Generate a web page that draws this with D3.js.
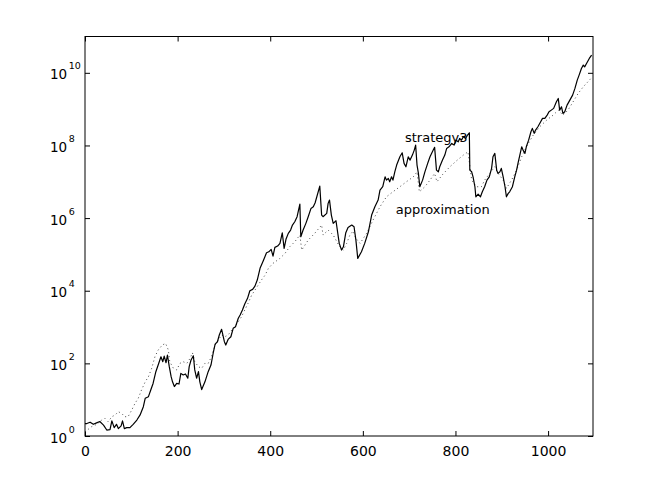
<!DOCTYPE html>
<html>
<head>
<meta charset="utf-8">
<script src="https://cdnjs.cloudflare.com/ajax/libs/d3/7.8.5/d3.min.js"></script>
<style>
  body { margin: 0; background: #fff; }
  text { font-family: "DejaVu Sans", sans-serif; fill: #000; }
</style>
</head>
<body>
<script>
// strategy3 (solid line)
var stratX = [0, 4, 11, 18, 25, 32, 40, 47, 54, 58, 63, 68, 72, 78, 81, 85, 90, 97, 104, 112,
  119, 126, 130, 137, 142, 147, 153, 158, 164, 168, 171, 175, 178, 182, 186, 189, 193, 198, 203, 207,
  212, 217, 222, 225, 229, 234, 237, 241, 245, 248, 252, 259, 266, 272, 277, 281, 286, 290, 295, 301,
  304, 309, 315, 320, 325, 331, 335, 340, 345, 351, 356, 362, 367, 372, 378, 385, 392, 397, 402, 406,
  410, 416, 421, 426, 430, 434, 439, 444, 448, 453, 458, 464, 466, 471, 477, 482, 488, 493, 497, 507,
  511, 514, 522, 525, 528, 532, 536, 542, 549, 554, 558, 563, 568, 576, 581, 585, 589, 597, 604, 612,
  619, 626, 633, 637, 643, 648, 651, 655, 658, 662, 665, 669, 673, 680, 685, 689, 693, 698, 702, 707,
  711, 714, 717, 720, 723, 729, 734, 740, 745, 752, 755, 759, 763, 766, 772, 777, 781, 786, 792, 797,
  801, 806, 809, 813, 817, 822, 826, 830, 831, 835, 838, 842, 844, 849, 854, 858, 863, 868, 873, 878,
  881, 885, 889, 892, 896, 899, 903, 907, 910, 914, 917, 923, 928, 932, 935, 939, 943, 946, 950, 953,
  958, 963, 966, 970, 973, 978, 984, 988, 993, 998, 1002, 1007, 1012, 1018, 1022, 1025, 1029, 1032, 1036, 1041,
  1047, 1053, 1058, 1063, 1067, 1072, 1076, 1079, 1083, 1089, 1094];
var stratY = [2.2, 2.2, 2.4, 2.1, 2.3, 2.5, 2.0, 1.46, 1.5, 2.6, 1.7, 2.1, 1.6, 1.9, 2.6, 1.6, 1.7, 1.7, 2.1, 2.75,
  3.8, 6.4, 10.9, 12.1, 18.5, 28, 59, 90, 152, 111, 159, 104, 170, 81, 43, 31, 23, 28, 27, 53,
  48, 51, 39, 81, 124, 162, 66, 39, 59, 31, 19, 31, 59, 90, 196, 340, 394, 603, 865, 394,
  320, 457, 541, 920, 1020, 1740, 2140, 2940, 4300, 6170, 9980, 10900, 13400, 19700, 41300, 66800, 111000, 118000, 138000, 90000,
  156000, 170000, 201000, 394000, 147000, 260000, 380000, 468000, 643000, 793000, 1.09e6, 2.43e6, 306000, 468000, 716000, 1.09e6, 1.85e6, 2.05e6, 2.65e6, 7.6e6,
  1.21e6, 1.09e6, 1.35e6, 2.54e6, 3.13e6, 1.21e6, 716000, 844000, 201000, 132000, 162000, 387000, 548000, 643000, 577000, 248000, 77800, 118000, 201000, 420000,
  1.21e6, 2.05e6, 3.13e6, 5.9e6, 7.3e6, 1.37e7, 1.11e7, 1.24e7, 1.0e7, 1.37e7, 1.11e7, 1.88e7, 2.88e7, 4.87e7, 6.28e7, 3.21e7, 2.59e7, 4.87e7, 3.95e7, 5.43e7,
  7.45e7, 1.02e8, 2.88e7, 1.7e7, 7.3e6, 1.11e7, 1.88e7, 3.21e7, 4.87e7, 7.45e7, 8.84e7, 2.09e7, 1.88e7, 2.59e7, 3.95e7, 5.43e7, 8.3e7, 9.18e7, 1.14e8, 1.02e8,
  1.4e8, 1.26e8, 1.56e8, 1.4e8, 1.73e8, 1.56e8, 1.93e8, 2.23e8, 2.09e7, 1.88e7, 1.37e7, 7.3e6, 3.86e6, 4.58e6, 3.86e6, 5.3e6, 7.3e6, 1.11e7, 1.37e7, 2.34e7,
  4.87e7, 6.04e7, 2.09e7, 1.7e7, 1.88e7, 2.34e7, 1.37e7, 7.3e6, 3.86e6, 4.79e6, 5.3e6, 7.3e6, 1.37e7, 2.09e7, 3.21e7, 5.43e7, 9.18e7, 7.45e7, 6.04e7, 9.18e7,
  1.4e8, 2.38e8, 2.95e8, 2.15e8, 2.65e8, 3.27e8, 4.48e8, 5.56e8, 5.56e8, 6.85e8, 8.44e8, 9.4e8, 1.05e9, 1.59e9, 1.97e9, 9.4e8, 1.16e9, 7.62e8, 8.44e8, 1.29e9,
  1.77e9, 2.43e9, 3.72e9, 6.3e9, 8.65e9, 1.32e10, 1.63e10, 1.46e10, 1.81e10, 2.49e10, 3.07e10];

// approximation (dotted line)
var approxX = [0, 7, 14, 22, 29, 36, 43, 50, 58, 65, 72, 79, 86, 93, 101, 108, 115, 122, 130, 137,
  144, 151, 158, 167, 174, 180, 183, 191, 198, 205, 212, 220, 227, 232, 237, 245, 252, 259, 266, 273,
  281, 288, 295, 302, 309, 317, 324, 331, 338, 345, 352, 360, 367, 374, 381, 389, 396, 406, 421, 432,
  442, 453, 464, 468, 482, 496, 511, 514, 525, 536, 550, 558, 565, 572, 579, 585, 594, 608, 622, 637,
  651, 665, 680, 694, 709, 717, 722, 734, 745, 755, 760, 773, 788, 802, 817, 827, 835, 845, 856, 863,
  874, 885, 892, 903, 910, 921, 932, 943, 953, 968, 982, 997, 1011, 1022, 1032, 1043, 1054, 1065, 1076, 1086,
  1095];
var approxY = [1.31, 1.53, 1.8, 2.0, 2.24, 2.76, 3.07, 2.48, 3.4, 3.78, 4.67, 4.2, 3.4, 3.4, 5.2, 7.94, 10.9, 18.5, 31, 43,
  73, 152, 233, 320, 356, 233, 111, 73, 66, 100, 111, 100, 138, 196, 111, 81, 73, 100, 100, 152,
  320, 439, 603, 541, 603, 828, 1020, 1400, 1920, 2940, 4490, 7600, 10400, 14300, 19700, 27000, 41300, 56700, 77800, 107000,
  162000, 223000, 341000, 132000, 248000, 380000, 643000, 341000, 468000, 341000, 162000, 132000, 201000, 341000, 439000, 277000, 201000, 380000, 881000, 2.05e6,
  3.86e6, 5.3e6, 7.3e6, 1.0e7, 1.37e7, 1.88e7, 5.3e6, 7.3e6, 1.11e7, 1.7e7, 1.0e7, 1.63e7, 2.59e7, 3.76e7, 5.43e7, 6.69e7, 1.11e7, 7.3e6, 7.3e6, 1.11e7,
  1.7e7, 2.59e7, 1.7e7, 1.11e7, 6.58e6, 1.11e7, 2.09e7, 4.87e7, 9.18e7, 1.93e8, 3.27e8, 4.99e8, 6.85e8, 9.4e8, 6.85e8, 9.4e8, 1.59e9, 2.71e9, 4.12e9, 5.65e9,
  7.6e9];

// tick values
var xTicks = [0, 200, 400, 600, 800, 1000];
var yExponents = [0, 2, 4, 6, 8, 10];

// curve labels, placed in data coordinates
var labelNames = ["strategy3", "approximation"];
var labelX = [691, 671];
var labelY = [1.24e8, 1.29e6];

var w = 654;
var h = 492;

var xScale = d3.scaleLinear()
               .domain([0, 1097])
               .range([85, 593]);

var yScale = d3.scaleLog()
               .domain([1, 1e11])
               .range([436, 36.5]);

var svg = d3.select("body")
            .append("svg")
            .attr("width", w)
            .attr("height", h);

// bottom axis with labels, ticks pointing inward
svg.append("g")
   .attr("transform", "translate(0,436)")
   .call(d3.axisBottom(xScale)
           .tickValues(xTicks)
           .tickFormat(d3.format("d"))
           .tickSizeInner(-5)
           .tickSizeOuter(0)
           .tickPadding(10))
   .call(function(g) {
       g.select(".domain").remove();
       g.selectAll("line").attr("stroke", "#000");
       g.selectAll("text")
        .style("font-family", "DejaVu Sans, sans-serif")
        .style("font-size", "14px");
   });

// top mirror ticks
svg.append("g")
   .attr("transform", "translate(0,36.5)")
   .call(d3.axisTop(xScale)
           .tickValues(xTicks)
           .tickSizeInner(-5)
           .tickSizeOuter(0)
           .tickFormat(""))
   .call(function(g) { g.select(".domain").remove(); });

// left axis; labels are drawn as 10 with a superscript
var yTickVals = yExponents.map(function(e) { return Math.pow(10, e); });

var leftAxis = svg.append("g")
   .attr("transform", "translate(85,0)")
   .call(d3.axisLeft(yScale)
           .tickValues(yTickVals)
           .tickSizeInner(-5)
           .tickSizeOuter(0)
           .tickFormat(""));
leftAxis.select(".domain").remove();

leftAxis.selectAll(".tick")
   .each(function(d, i) {
       var t = d3.select(this).append("text")
                 .attr("x", -35)
                 .attr("y", 6)
                 .attr("text-anchor", "start")
                 .style("font-size", "13.5px");
       t.append("tspan").text("10");
       t.append("tspan")
        .attr("dx", 1.5)
        .attr("dy", -10)
        .style("font-size", "9.5px")
        .text(yExponents[i]);
   });

// right mirror ticks
svg.append("g")
   .attr("transform", "translate(593,0)")
   .call(d3.axisRight(yScale)
           .tickValues(yTickVals)
           .tickSizeInner(-5)
           .tickSizeOuter(0)
           .tickFormat(""))
   .call(function(g) { g.select(".domain").remove(); });

// frame
svg.append("rect")
   .attr("x", 85)
   .attr("y", 36.5)
   .attr("width", 593 - 85)
   .attr("height", 436 - 36.5)
   .attr("fill", "none")
   .attr("stroke", "#000")
   .attr("stroke-width", 1);

var line = d3.line()
             .x(function(d) { return xScale(d[0]); })
             .y(function(d) { return yScale(d[1]); });

// approximation
svg.append("path")
   .datum(approxX.map(function(x, i) { return [x, approxY[i]]; }))
   .attr("d", line)
   .attr("fill", "none")
   .attr("stroke", "#444")
   .attr("stroke-width", 1)
   .attr("stroke-dasharray", "1,3");

// strategy3
svg.append("path")
   .datum(stratX.map(function(x, i) { return [x, stratY[i]]; }))
   .attr("d", line)
   .attr("fill", "none")
   .attr("stroke", "#000")
   .attr("stroke-width", 1.2)
   .attr("stroke-linejoin", "round");

// labels
svg.selectAll(".curveLabel")
   .data(labelNames)
   .enter()
   .append("text")
   .attr("class", "curveLabel")
   .attr("x", function(d, i) { return xScale(labelX[i]); })
   .attr("y", function(d, i) { return yScale(labelY[i]); })
   .style("font-size", "13px")
   .text(function(d) { return d; });
</script>
</body>
</html>
